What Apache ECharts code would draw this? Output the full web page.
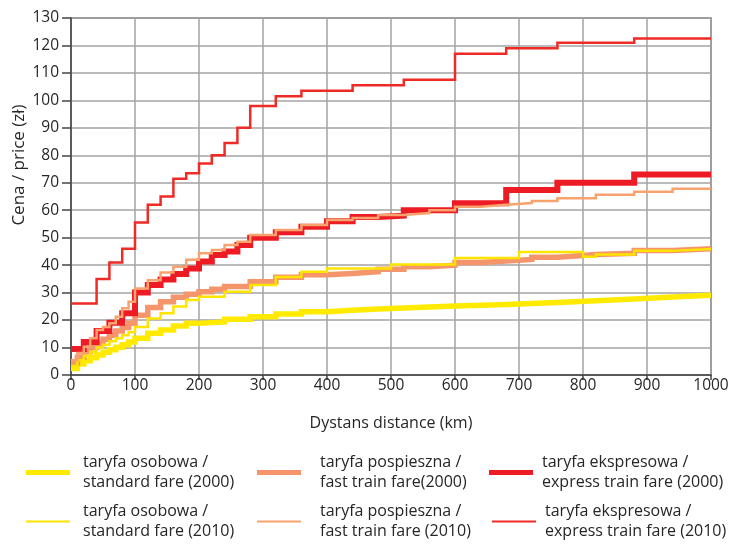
<!DOCTYPE html>
<html>
<head>
<meta charset="utf-8">
<script src="https://cdn.jsdelivr.net/npm/echarts@6/dist/echarts.min.js"></script>
<style>
  html, body { margin: 0; padding: 0; background: #ffffff; }
  #chart { width: 734px; height: 545px; }
</style>
</head>
<body>
<div id="chart"></div>
<script>
// Rail fare step functions: [distance km, price zł] — each price holds until the next distance
const standard2000 = [[0,2.4],[10,4],[20,5.2],[30,6.3],[40,7.3],[50,8.3],[60,9.2],[70,10.1],[80,11],[90,12],[100,13.4],[120,15.2],[140,16.4],[160,17.8],[180,18.8],[200,19.3],[240,20.3],[280,21.2],[320,22.2],[360,23],[400,23.6],[440,24],[480,24.4],[520,24.8],[560,25.1],[600,25.4],[640,25.7],[680,26],[720,26.4],[760,27],[820,27.7],[880,28.4],[940,29],[1000,29]];
const fast2000 = [[0,4.4],[10,6.5],[20,8.5],[30,10],[40,11.5],[50,13],[60,14.5],[70,16],[80,17.3],[90,18.8],[100,21.8],[120,24.6],[140,26.7],[160,28.3],[180,29.4],[200,30.3],[220,31.2],[240,32.2],[280,34],[320,35.6],[360,36.5],[400,37],[440,37.6],[480,38.5],[520,39.4],[560,40],[600,41],[640,41.5],[680,42.1],[720,42.9],[760,43.5],[800,43.9],[820,44.3],[880,45.3],[940,46],[1000,46]];
const express2000 = [[0,9.5],[20,12],[40,16],[60,19],[80,22.5],[100,30],[120,32.8],[140,34.8],[160,36.8],[180,38.8],[200,41.3],[220,43.7],[240,45],[260,47.3],[280,50],[320,52],[360,54],[400,56],[440,57.5],[480,58],[520,60],[600,62.5],[680,67.4],[760,70],[880,73],[1000,73]];
const standard2010 = [[0,3.3],[10,5.5],[20,7],[30,8.5],[40,10],[50,11],[60,12.3],[70,13.4],[80,14.5],[90,15.6],[100,17.5],[120,20.6],[140,22.5],[160,24.9],[180,27.3],[200,28.5],[240,30.3],[280,32.8],[320,35.7],[360,37.6],[400,38.8],[500,40.2],[600,42.6],[700,44.8],[800,43.1],[820,43.9],[880,45.2],[940,45.9],[1000,45.9]];
const fast2010 = [[0,5.5],[10,8],[20,10.3],[30,13.4],[40,16.4],[50,17.5],[60,18.8],[70,21.2],[80,24.3],[90,26.7],[100,31.5],[120,34.5],[140,37.3],[160,39.4],[180,42],[200,44.3],[220,45.5],[240,47.3],[260,48.5],[280,51],[320,52.8],[360,54.6],[400,56.4],[440,57.2],[480,58.3],[520,59],[560,60],[600,61.3],[640,62],[680,62.6],[720,63.4],[760,64.4],[820,65.6],[880,66.7],[940,67.8],[1000,67.8]];
const express2010 = [[0,26],[40,35],[60,41],[80,46],[100,55.5],[120,62],[140,65],[160,71.5],[180,73.5],[200,77],[220,80],[240,84.5],[260,90],[280,98],[320,101.5],[360,103.5],[440,105.5],[520,107.5],[600,117],[680,119],[760,121],[880,122.5],[1000,122.5]];

const seriesNames = [
  'taryfa osobowa /\nstandard fare (2000)',
  'taryfa pospieszna /\nfast train fare(2000)',
  'taryfa ekspresowa /\nexpress train fare (2000)',
  'taryfa osobowa /\nstandard fare (2010)',
  'taryfa pospieszna /\nfast train fare (2010)',
  'taryfa ekspresowa /\nexpress train fare (2010)'
];
const seriesData = [standard2000, fast2000, express2000, standard2010, fast2010, express2010];
const seriesColors = ['#FFEA00', '#F4956B', '#ED1C24', '#FFE400', '#F8A26E', '#EE2B24'];
const seriesWidths = [5.5, 5.5, 6, 2.5, 2.5, 2.5];

const FONT = '"Open Sans", sans-serif';
const TEXT = '#262626';

// legend placement: [left, gap between swatch and text] per item, two rows
const legendLeft = [26, 257, 489, 26, 257, 492];
const legendTextGap = [8, 14, 4, 8, 14, 4];
const legendRows = [452, 501];

const chart = echarts.init(document.getElementById('chart'), null, { renderer: 'canvas' });

const series = seriesData.map((d, i) => ({
  name: seriesNames[i],
  type: 'line',
  step: 'end',
  data: d,
  showSymbol: false,
  symbol: 'none',
  z: 2 + i,
  lineStyle: { color: seriesColors[i], width: seriesWidths[i], join: 'miter', cap: 'butt' },
  itemStyle: { color: seriesColors[i] },
  emphasis: { disabled: true },
  animation: false
}));

const legends = seriesNames.map((n, i) => ({
  data: [n],
  left: legendLeft[i],
  top: legendRows[Math.floor(i / 3)],
  padding: 0,
  orient: 'horizontal',
  icon: 'rect',
  itemWidth: 44,
  itemHeight: i < 3 ? 5 : 2,
  selectedMode: false,
  textStyle: {
    fontFamily: FONT, fontSize: 16, color: TEXT, lineHeight: 20.5,
    padding: [0, 0, 0, legendTextGap[i]]
  }
}));

chart.setOption({
  animation: false,
  backgroundColor: '#ffffff',
  grid: { left: 71, top: 18, width: 640, height: 357, show: true, borderColor: '#6e6e6e', borderWidth: 1.5, containLabel: false },
  legend: legends,
  graphic: [{
    type: 'text',
    x: 19, y: 165,
    rotation: Math.PI / 2,
    style: {
      text: 'Cena / price (zł)',
      fontFamily: FONT, fontSize: 17, fill: TEXT,
      textAlign: 'center', textVerticalAlign: 'middle'
    }
  }],
  xAxis: {
    type: 'value', min: 0, max: 1000, interval: 100,
    name: 'Dystans distance (km)', nameLocation: 'middle', nameGap: 40,
    nameTextStyle: { fontFamily: FONT, fontSize: 16, color: TEXT },
    axisLine: { show: true, lineStyle: { color: '#444444', width: 1.5 } },
    axisTick: { show: true, length: 5, lineStyle: { color: '#444444', width: 1.5 } },
    axisLabel: { fontFamily: FONT, fontSize: 15.5, color: TEXT, margin: 3, formatter: v => String(v) },
    splitLine: { show: true, lineStyle: { color: '#a3a3a3', width: 1.5 } }
  },
  yAxis: {
    type: 'value', min: 0, max: 130, interval: 10,
    axisLine: { show: true, lineStyle: { color: '#444444', width: 1.5 } },
    axisTick: { show: true, length: 9, lineStyle: { color: '#444444', width: 1.5 } },
    axisLabel: { fontFamily: FONT, fontSize: 15.5, color: TEXT, margin: 12 },
    splitLine: { show: true, lineStyle: { color: '#a3a3a3', width: 1.5 } }
  },
  series: series
});
</script>
</body>
</html>
